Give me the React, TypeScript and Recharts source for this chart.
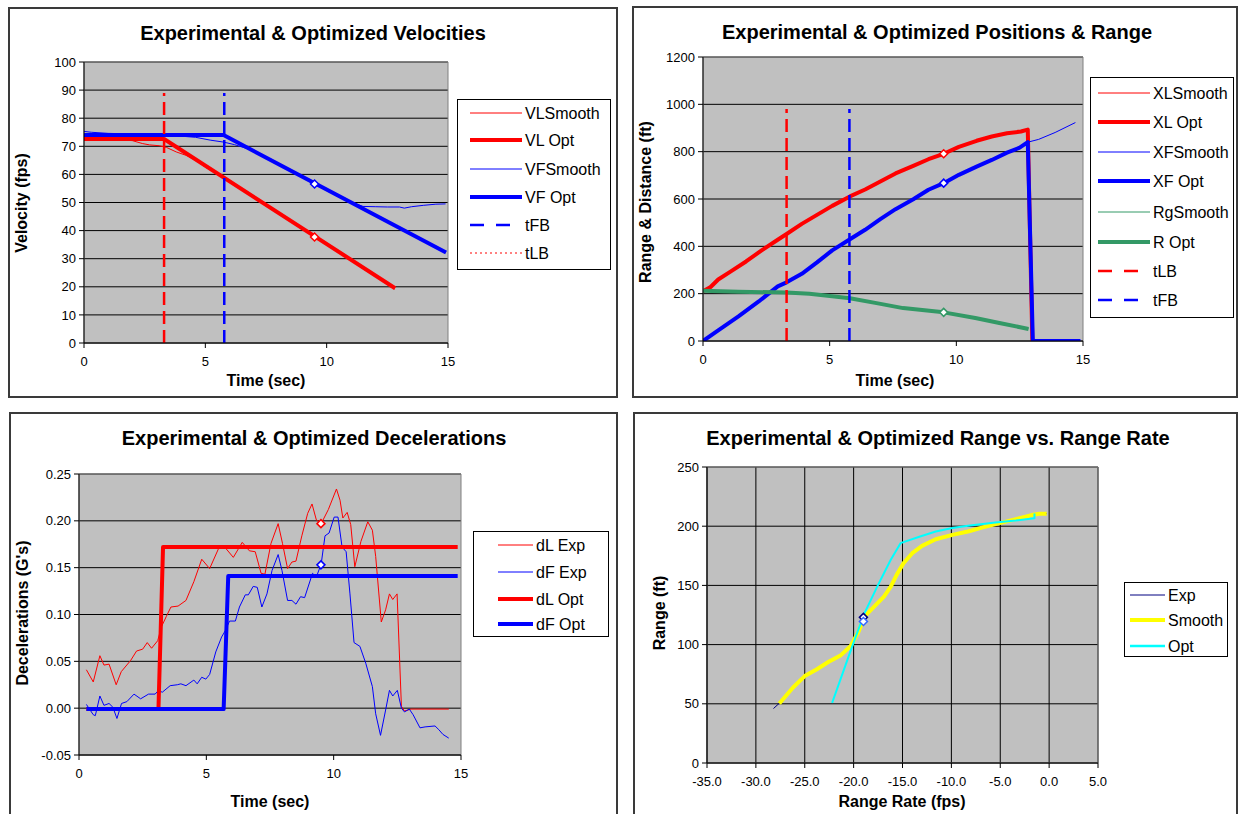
import { ComposedChart, Line, XAxis, YAxis, CartesianGrid, ReferenceArea } from 'recharts'

type Pt = { t: number; v: number }
const pts = (a: number[][]): Pt[] => a.map(([t, v]) => ({ t, v }))

// ---------- shared ticks
const timeTicks = [0, 5, 10, 15]
const velTicks = [0, 10, 20, 30, 40, 50, 60, 70, 80, 90, 100]
const posTicks = [0, 200, 400, 600, 800, 1000, 1200]
const decTicks = [-0.05, 0, 0.05, 0.1, 0.15, 0.2, 0.25]
const rateTicks = [-35, -30, -25, -20, -15, -10, -5, 0, 5]
const rangeTicks = [0, 50, 100, 150, 200, 250]

// ---------- velocities (fps)
const vlSmooth = [[0, 73.2], [0.5, 73], [1, 72.8], [1.5, 72.5], [2, 72], [2.4, 71], [2.7, 70.5], [3.1, 70.2], [3.4, 69.6], [3.8, 68], [4.2, 66.8], [4.6, 65], [5, 62.6], [5.5, 60], [6, 57.2], [6.5, 54.6], [7, 51.9], [7.5, 49], [8, 46.2], [8.5, 43.6], [9, 40.6], [9.5, 37.6], [10, 35], [10.5, 32.3], [11, 29.4], [11.5, 26.4], [12, 23.8], [12.4, 21.6], [12.8, 19.2]]
const vlOpt = [[0, 72.6], [3.3, 72.6], [12.82, 19.5]]
const vfSmooth = [[0, 75.3], [0.3, 75], [1, 74.6], [2, 74.4], [3, 74.2], [4, 73.6], [4.6, 73.2], [5.2, 72.2], [5.75, 71.5], [6.2, 70.6], [6.6, 69.5], [7, 68.4], [7.5, 66], [8, 63.6], [8.5, 61.3], [9, 59], [9.5, 56.5], [10, 54.3], [10.5, 52], [11, 50.2], [11.5, 48.6], [12, 48.5], [12.5, 48.4], [13, 48.4], [13.2, 48], [13.5, 48.5], [14, 49], [14.5, 49.4], [14.9, 49.5]]
const vfOpt = [[0, 74], [5.75, 74], [14.92, 32.2]]
const velMarkL = [[9.5, 37.7]]
const velMarkF = [[9.5, 56.6]]
const tLB = 3.3
const tFB = 5.78
const velCueTop = 89

// ---------- positions & range (ft)
const xlSmooth = [[0, 212], [0.3, 226], [0.6, 258], [1.1, 296], [1.7, 334], [2.3, 384], [2.95, 426], [3.3, 450], [3.9, 497], [4.5, 531], [5.1, 573], [5.8, 609], [6.4, 642], [7.0, 672], [7.6, 710], [8.3, 738], [8.9, 770], [9.5, 789], [10.1, 822], [10.8, 844], [11.4, 866], [12.0, 876], [12.55, 887], [12.8, 890]]
const xlOpt = [[0, 210], [0.3, 228], [0.6, 260], [1.1, 294], [1.7, 336], [2.3, 382], [2.95, 428], [3.3, 452], [3.9, 495], [4.5, 533], [5.1, 571], [5.8, 611], [6.4, 640], [7.0, 674], [7.6, 708], [8.3, 740], [8.9, 768], [9.5, 791], [10.1, 820], [10.8, 846], [11.4, 864], [12.0, 878], [12.55, 885], [12.82, 893], [13.0, 0]]
const xfSmooth = [[0, 0], [0.6, 46], [1.4, 103], [2.2, 168], [2.95, 230], [3.3, 249], [3.9, 283], [4.5, 333], [5.1, 382], [5.8, 431], [6.4, 469], [7.0, 516], [7.6, 556], [8.3, 600], [8.9, 638], [9.5, 668], [10.1, 701], [10.8, 738], [11.4, 764], [12.0, 797], [12.5, 816], [12.82, 840], [13.25, 852], [13.9, 881], [14.7, 923]]
const xfOpt = [[0, 0], [0.6, 45], [1.4, 104], [2.2, 167], [2.95, 231], [3.3, 248], [3.9, 284], [4.5, 332], [5.1, 383], [5.8, 430], [6.4, 470], [7.0, 515], [7.6, 557], [8.3, 599], [8.9, 639], [9.5, 667], [10.1, 702], [10.8, 737], [11.4, 765], [12.0, 796], [12.5, 817], [12.82, 840], [13.02, 0], [14.9, 0]]
const rgSmooth = [[0, 213], [1.4, 209], [3.3, 206], [4.2, 201], [5.1, 190], [5.8, 182], [6.85, 161], [7.9, 140], [9.5, 122], [10.75, 98], [11.7, 77], [12.85, 52]]
const rOpt = [[0, 212], [1.4, 208], [3.3, 205], [4.2, 200], [5.1, 189], [5.8, 181], [6.85, 160], [7.9, 139], [9.5, 121], [10.75, 97], [11.7, 76], [12.85, 51]]
const posMarkL = [[9.5, 791]]
const posMarkF = [[9.5, 667]]
const posMarkR = [[9.5, 121]]
const posCueTop = 980

// ---------- decelerations (G's)
const dlExp = [[0.29, 0.041], [0.56, 0.028], [0.82, 0.056], [0.98, 0.046], [1.18, 0.047], [1.46, 0.025], [1.66, 0.039], [2.03, 0.051], [2.26, 0.061], [2.5, 0.063], [2.68, 0.07], [2.85, 0.064], [3.09, 0.072], [3.24, 0.087], [3.43, 0.098], [3.61, 0.108], [3.89, 0.109], [4.2, 0.115], [4.51, 0.135], [4.82, 0.159], [5.13, 0.149], [5.49, 0.171], [5.72, 0.172], [6.06, 0.161], [6.41, 0.177], [6.69, 0.168], [6.92, 0.167], [7.15, 0.144], [7.3, 0.143], [7.54, 0.176], [7.82, 0.197], [7.99, 0.176], [8.19, 0.149], [8.36, 0.156], [8.52, 0.157], [8.75, 0.184], [8.98, 0.208], [9.15, 0.218], [9.32, 0.201], [9.51, 0.197], [9.79, 0.212], [10.11, 0.234], [10.25, 0.222], [10.36, 0.203], [10.53, 0.209], [10.67, 0.196], [10.83, 0.151], [11.07, 0.178], [11.34, 0.199], [11.52, 0.19], [11.65, 0.162], [11.87, 0.092], [12.04, 0.105], [12.19, 0.122], [12.32, 0.116], [12.49, 0.122], [12.66, 0.002], [12.78, -0.003], [13.04, -0.001], [14.52, -0.001]]
const dfExp = [[0.29, 0.004], [0.56, -0.007], [0.64, -0.008], [0.82, 0.013], [0.98, 0.003], [1.18, 0.005], [1.33, 0.001], [1.49, -0.011], [1.67, 0.005], [1.88, 0.007], [2.16, 0.015], [2.42, 0.01], [2.73, 0.015], [2.99, 0.015], [3.12, 0.019], [3.27, 0.017], [3.58, 0.024], [3.86, 0.025], [4.0, 0.026], [4.2, 0.024], [4.51, 0.03], [4.64, 0.026], [4.82, 0.033], [4.98, 0.031], [5.13, 0.036], [5.37, 0.06], [5.6, 0.076], [5.75, 0.083], [5.91, 0.093], [6.14, 0.093], [6.3, 0.108], [6.53, 0.121], [6.65, 0.121], [6.84, 0.13], [7.0, 0.129], [7.18, 0.108], [7.38, 0.122], [7.58, 0.147], [7.82, 0.164], [7.97, 0.147], [8.19, 0.115], [8.36, 0.115], [8.52, 0.111], [8.7, 0.119], [8.86, 0.118], [9.17, 0.144], [9.32, 0.14], [9.51, 0.154], [9.66, 0.184], [9.82, 0.187], [10.02, 0.204], [10.17, 0.204], [10.33, 0.172], [10.49, 0.167], [10.64, 0.122], [10.8, 0.07], [11.03, 0.066], [11.26, 0.048], [11.52, 0.023], [11.65, -0.006], [11.84, -0.029], [12.04, -0.002], [12.19, 0.019], [12.32, 0.013], [12.5, 0.019], [12.66, 0.0], [12.78, -0.004], [12.97, -0.001], [13.12, -0.007], [13.39, -0.021], [13.59, -0.02], [13.98, -0.019], [14.13, -0.023], [14.29, -0.028], [14.52, -0.032]]
const dlOpt = [[0.29, -0.001], [3.12, -0.001], [3.3, 0.172], [14.87, 0.172]]
const dfOpt = [[0.29, -0.001], [5.68, -0.001], [5.86, 0.141], [14.87, 0.141]]
const decMarkL = [[9.5, 0.197]]
const decMarkF = [[9.5, 0.153]]

// ---------- range vs range rate
const rrExp = [[-28.2, 46], [-27.6, 50.5], [-26.2, 63.5], [-25.0, 73], [-23.8, 79.5], [-22.5, 85.5], [-21.3, 91.5], [-20.3, 99], [-19.5, 111], [-18.9, 123.5], [-17.9, 132], [-16.9, 140.5], [-16.2, 149], [-15.6, 159], [-14.9, 169], [-14.0, 177.5], [-13.0, 183.8], [-11.6, 189.3], [-9.9, 192.8], [-8.3, 195.6], [-6.7, 199.2], [-5.05, 202.6], [-3.4, 206], [-1.8, 209.4], [-1.0, 210.5], [-0.25, 210.6]]
const rrSmooth = [[-27.6, 50.2], [-26.2, 63.8], [-25.0, 73.4], [-23.8, 79], [-22.55, 85.5], [-21.3, 91.1], [-20.3, 98.8], [-19.5, 110.9], [-18.9, 123.6], [-17.9, 132], [-16.9, 140.5], [-16.2, 149], [-15.6, 158.9], [-14.9, 168.7], [-14.0, 177.2], [-13.0, 183.4], [-11.6, 189], [-9.9, 192.7], [-8.3, 195.5], [-6.7, 199.2], [-5.05, 202.6], [-3.4, 206], [-1.8, 209.4], [-1.0, 210.5], [-0.25, 210.5]]
const rrOpt = [[-22.2, 50.8], [-20.1, 99.6], [-18.9, 126.4], [-17.5, 150.4], [-16.2, 171.6], [-15.2, 185.7], [-13.2, 191.3], [-11.6, 195.5], [-9.9, 198.4], [-8.3, 200.3], [-5.5, 203.2], [-3.4, 204.9], [-1.5, 206.8], [-1.5, 210.8]]
const rrMarkExp = [[-19.0, 123]]
const rrMarkOpt = [[-19.0, 119.5]]

const FONT = '"Liberation Sans", Arial, sans-serif'

type Box = { x: number; y: number; w: number; h: number }
type Plot = { x0: number; y0: number; x1: number; y1: number }
type Series = { data: number[][]; color: string; width: number; dash?: string }
type Mark = { data: number[][]; color: string }
type LegItem = { name: string; color: string; width: number; dash?: string }

const Diamond = (props: any, color: string) => {
  const { cx, cy, index } = props
  if (cx == null || cy == null) return <g key={`m${index}`} />
  return (
    <path
      key={`m${index}`}
      d={`M${cx},${cy - 4}L${cx + 4},${cy}L${cx},${cy + 4}L${cx - 4},${cy}Z`}
      fill="#fff"
      stroke={color}
      strokeWidth={1.5}
    />
  )
}

function Legend({ box, rows, lineX, textX, items }: { box: Box; rows: number[]; lineX: [number, number]; textX: number; items: LegItem[] }) {
  return (
    <svg style={{ position: 'absolute', left: box.x, top: box.y }} width={box.w} height={box.h}>
      <rect x={0.5} y={0.5} width={box.w - 1} height={box.h - 1} fill="#fff" stroke="#000" strokeWidth={1} />
      {items.map((it, i) => (
        <g key={it.name}>
          <line
            x1={lineX[0] - box.x}
            x2={lineX[1] - box.x}
            y1={rows[i] - box.y}
            y2={rows[i] - box.y}
            stroke={it.color}
            strokeWidth={it.width}
            strokeDasharray={it.dash}
          />
          <text x={textX - box.x} y={rows[i] - box.y} dy="0.36em" fontSize={16} fontFamily={FONT} fill="#000">
            {it.name}
          </text>
        </g>
      ))}
    </svg>
  )
}

const XH = 30
const YW = 50

function Panel(p: {
  box: Box
  plot: Plot
  xDomain: [number, number]
  xTicks: number[]
  yDomain: [number, number]
  yTicks: number[]
  xFmt?: (v: number) => string
  yFmt?: (v: number) => string
  vGrid?: boolean
  series: Series[]
  marks: Mark[]
  title: string
  titleAt: [number, number]
  xLabel: string
  xLabelAt: [number, number]
  yLabel: string
  yLabelAt: [number, number]
}) {
  const { box, plot } = p
  const margin = {
    top: plot.y0 - box.y,
    right: box.x + box.w - plot.x1,
    bottom: box.y + box.h - plot.y1 - XH,
    left: plot.x0 - box.x - YW,
  }
  const tick = { fontSize: 13, fill: '#000', fontFamily: FONT }
  return (
    <>
      <div
        style={{
          position: 'absolute',
          left: box.x,
          top: box.y,
          width: box.w,
          height: box.h,
          border: '2px solid #3a3a3a',
          boxSizing: 'border-box',
          background: '#fff',
        }}
      />
      <div style={{ position: 'absolute', left: box.x, top: box.y }}>
        <ComposedChart width={box.w} height={box.h} margin={margin}>
          <CartesianGrid stroke="#000" fill="#c0c0c0" vertical={!!p.vGrid} />
          <XAxis
            dataKey="t"
            type="number"
            domain={p.xDomain}
            ticks={p.xTicks}
            interval={0}
            allowDataOverflow
            height={XH}
            tickSize={5}
            tickMargin={9}
            tickFormatter={p.xFmt}
            tick={tick}
            stroke="#000"
          />
          <YAxis
            type="number"
            domain={p.yDomain}
            ticks={p.yTicks}
            interval={0}
            allowDataOverflow
            width={YW}
            tickSize={5}
            tickMargin={3}
            tickFormatter={p.yFmt}
            tick={tick}
            stroke="#000"
          />
          <ReferenceArea
            x1={p.xDomain[0]}
            x2={p.xDomain[1]}
            y1={p.yDomain[0]}
            y2={p.yDomain[1]}
            fill="none"
            stroke="#808080"
            strokeWidth={1}
            ifOverflow="visible"
          />
          {p.series.map((s, i) => (
            <Line
              key={`s${i}`}
              data={pts(s.data)}
              dataKey="v"
              type="linear"
              stroke={s.color}
              strokeWidth={s.width}
              strokeDasharray={s.dash}
              strokeLinejoin="round"
              dot={false}
              activeDot={false}
              isAnimationActive={false}
            />
          ))}
          {p.marks.map((m, i) => (
            <Line
              key={`m${i}`}
              data={pts(m.data)}
              dataKey="v"
              stroke="none"
              dot={(d: any) => Diamond(d, m.color)}
              activeDot={false}
              isAnimationActive={false}
            />
          ))}
        </ComposedChart>
      </div>
      <div
        style={{
          position: 'absolute',
          left: p.titleAt[0],
          top: p.titleAt[1],
          transform: 'translate(-50%, -50%)',
          whiteSpace: 'nowrap',
          fontFamily: FONT,
          fontWeight: 'bold',
          fontSize: 20,
        }}
      >
        {p.title}
      </div>
      <div
        style={{
          position: 'absolute',
          left: p.xLabelAt[0],
          top: p.xLabelAt[1],
          transform: 'translate(-50%, -50%)',
          whiteSpace: 'nowrap',
          fontFamily: FONT,
          fontWeight: 'bold',
          fontSize: 16,
        }}
      >
        {p.xLabel}
      </div>
      <div
        style={{
          position: 'absolute',
          left: p.yLabelAt[0],
          top: p.yLabelAt[1],
          transform: 'translate(-50%, -50%) rotate(-90deg)',
          whiteSpace: 'nowrap',
          fontFamily: FONT,
          fontWeight: 'bold',
          fontSize: 16,
        }}
      >
        {p.yLabel}
      </div>
    </>
  )
}

const RED = '#ff0000'
const BLUE = '#0000ff'
const GREEN = '#339966'
const THIN = 1
const THICK = 4
const CUE = '13 6'

export default function App() {
  return (
    <div style={{ position: 'absolute', left: 0, top: 0, width: 1239, height: 814, overflow: 'hidden', background: '#fff' }}>
      {/* velocities */}
      <Panel
        box={{ x: 8, y: 7, w: 610, h: 391 }}
        plot={{ x0: 84, y0: 62, x1: 448, y1: 343 }}
        xDomain={[0, 15]}
        xTicks={timeTicks}
        yDomain={[0, 100]}
        yTicks={velTicks}
        series={[
          { data: vlSmooth, color: RED, width: THIN },
          { data: vlOpt, color: RED, width: THICK },
          { data: vfSmooth, color: BLUE, width: THIN },
          { data: vfOpt, color: BLUE, width: THICK },
          { data: [[tFB, 0], [tFB, velCueTop]], color: BLUE, width: 2.5, dash: CUE },
          { data: [[tLB, 0], [tLB, velCueTop]], color: RED, width: 2.5, dash: CUE },
        ]}
        marks={[
          { data: velMarkL, color: RED },
          { data: velMarkF, color: BLUE },
        ]}
        title="Experimental & Optimized Velocities"
        titleAt={[313, 33]}
        xLabel="Time (sec)"
        xLabelAt={[266, 381]}
        yLabel="Velocity (fps)"
        yLabelAt={[22, 203]}
      />
      <Legend
        box={{ x: 457, y: 99, w: 154, h: 171 }}
        rows={[113, 140, 169, 197, 225, 253]}
        lineX={[470, 522]}
        textX={525}
        items={[
          { name: 'VLSmooth', color: RED, width: THIN },
          { name: 'VL Opt', color: RED, width: 4 },
          { name: 'VFSmooth', color: BLUE, width: THIN },
          { name: 'VF Opt', color: BLUE, width: 4 },
          { name: 'tFB', color: BLUE, width: 2.5, dash: '14 12' },
          { name: 'tLB', color: RED, width: 1, dash: '2 3' },
        ]}
      />

      {/* positions & range */}
      <Panel
        box={{ x: 632, y: 6, w: 606, h: 392 }}
        plot={{ x0: 703, y0: 57, x1: 1083, y1: 341 }}
        xDomain={[0, 15]}
        xTicks={timeTicks}
        yDomain={[0, 1200]}
        yTicks={posTicks}
        series={[
          { data: xlSmooth, color: RED, width: THIN },
          { data: xlOpt, color: RED, width: THICK },
          { data: xfSmooth, color: BLUE, width: THIN },
          { data: xfOpt, color: BLUE, width: THICK },
          { data: rgSmooth, color: GREEN, width: THIN },
          { data: rOpt, color: GREEN, width: THICK },
          { data: [[tLB, 0], [tLB, posCueTop]], color: RED, width: 2.5, dash: CUE },
          { data: [[tFB, 0], [tFB, posCueTop]], color: BLUE, width: 2.5, dash: CUE },
        ]}
        marks={[
          { data: posMarkL, color: RED },
          { data: posMarkF, color: BLUE },
          { data: posMarkR, color: GREEN },
        ]}
        title="Experimental & Optimized Positions & Range"
        titleAt={[937, 32]}
        xLabel="Time (sec)"
        xLabelAt={[895, 381]}
        yLabel="Range & Distance (ft)"
        yLabelAt={[646, 202]}
      />
      <Legend
        box={{ x: 1090, y: 77, w: 144, h: 241 }}
        rows={[93, 122, 152, 181, 212, 242, 271, 300]}
        lineX={[1098, 1150]}
        textX={1153}
        items={[
          { name: 'XLSmooth', color: RED, width: THIN },
          { name: 'XL Opt', color: RED, width: 4 },
          { name: 'XFSmooth', color: BLUE, width: THIN },
          { name: 'XF Opt', color: BLUE, width: 4 },
          { name: 'RgSmooth', color: GREEN, width: THIN },
          { name: 'R Opt', color: GREEN, width: 4 },
          { name: 'tLB', color: RED, width: 2.5, dash: '14 12' },
          { name: 'tFB', color: BLUE, width: 2.5, dash: '14 12' },
        ]}
      />

      {/* decelerations */}
      <Panel
        box={{ x: 9, y: 412, w: 609, h: 420 }}
        plot={{ x0: 79, y0: 474, x1: 461, y1: 755 }}
        xDomain={[0, 15]}
        xTicks={timeTicks}
        yDomain={[-0.05, 0.25]}
        yTicks={decTicks}
        yFmt={(v) => v.toFixed(2)}
        series={[
          { data: dlExp, color: RED, width: THIN },
          { data: dfExp, color: BLUE, width: THIN },
          { data: dlOpt, color: RED, width: THICK },
          { data: dfOpt, color: BLUE, width: THICK },
        ]}
        marks={[
          { data: decMarkL, color: RED },
          { data: decMarkF, color: BLUE },
        ]}
        title="Experimental & Optimized Decelerations"
        titleAt={[314, 438]}
        xLabel="Time (sec)"
        xLabelAt={[270, 802]}
        yLabel="Decelerations (G's)"
        yLabelAt={[23, 613]}
      />
      <Legend
        box={{ x: 473, y: 531, w: 136, h: 106 }}
        rows={[545, 572, 599, 624]}
        lineX={[498, 533]}
        textX={536}
        items={[
          { name: 'dL Exp', color: RED, width: THIN },
          { name: 'dF Exp', color: BLUE, width: THIN },
          { name: 'dL Opt', color: RED, width: 4 },
          { name: 'dF Opt', color: BLUE, width: 4 },
        ]}
      />

      {/* range vs range rate */}
      <Panel
        box={{ x: 633, y: 412, w: 605, h: 420 }}
        plot={{ x0: 707, y0: 467, x1: 1098, y1: 763 }}
        xDomain={[-35, 5]}
        xTicks={rateTicks}
        xFmt={(v) => v.toFixed(1)}
        yDomain={[0, 250]}
        yTicks={rangeTicks}
        vGrid
        series={[
          { data: rrExp, color: '#000080', width: THIN },
          { data: rrSmooth, color: '#ffff00', width: 4 },
          { data: rrOpt, color: '#00ffff', width: 2 },
        ]}
        marks={[
          { data: rrMarkExp, color: '#000080' },
          { data: rrMarkOpt, color: '#3366ff' },
        ]}
        title="Experimental & Optimized Range vs. Range Rate"
        titleAt={[938, 438]}
        xLabel="Range Rate (fps)"
        xLabelAt={[902, 802]}
        yLabel="Range (ft)"
        yLabelAt={[660, 613]}
      />
      <Legend
        box={{ x: 1124, y: 582, w: 104, h: 75 }}
        rows={[595, 620, 646]}
        lineX={[1130, 1165]}
        textX={1168}
        items={[
          { name: 'Exp', color: '#000080', width: THIN },
          { name: 'Smooth', color: '#ffff00', width: 4 },
          { name: 'Opt', color: '#00ffff', width: 2.5 },
        ]}
      />
    </div>
  )
}
